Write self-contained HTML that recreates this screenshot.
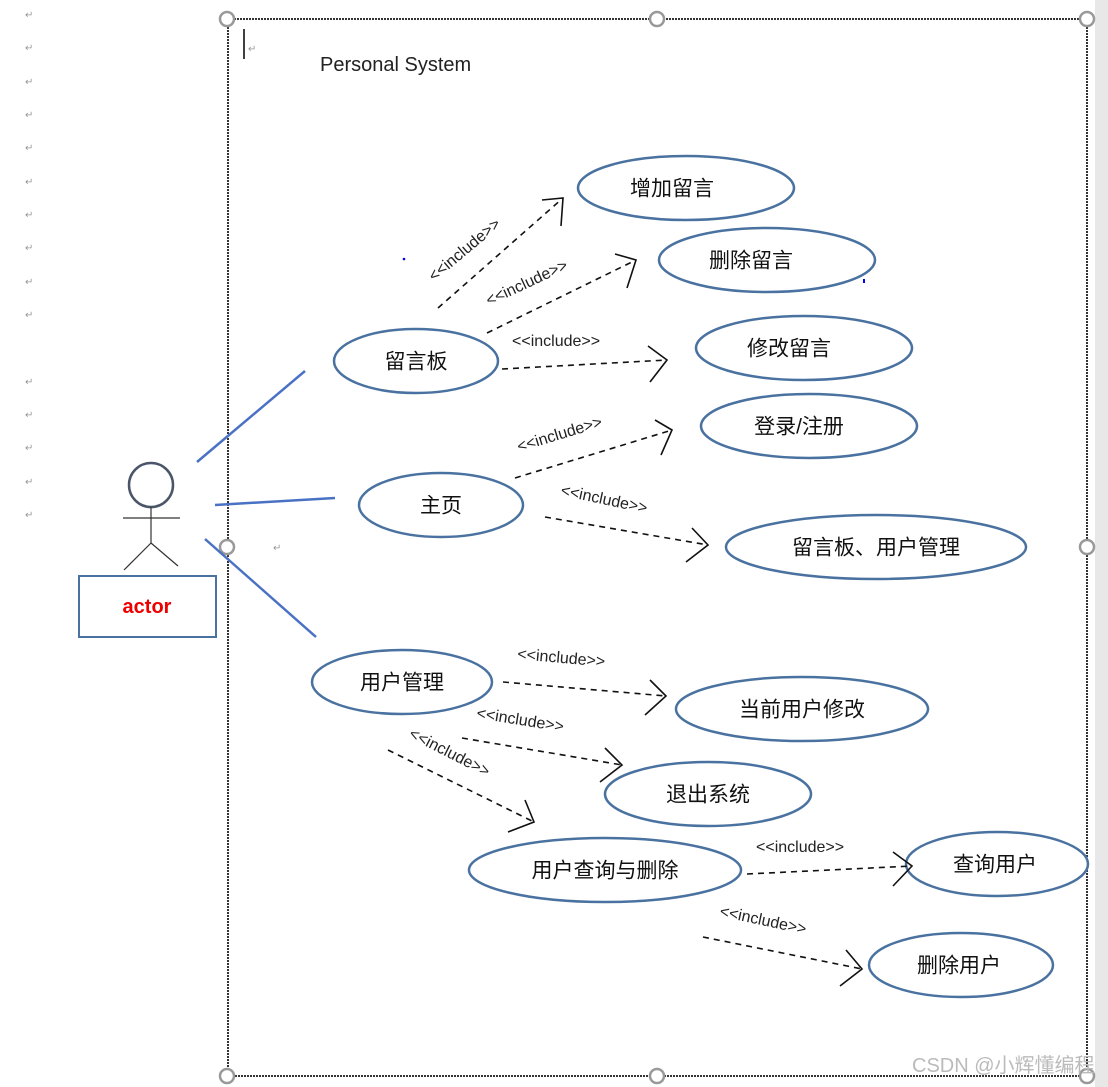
<!DOCTYPE html>
<html><head><meta charset="utf-8"><style>
body{margin:0;background:#fff;}
svg{display:block;font-family:"Liberation Sans","Noto Sans CJK SC",sans-serif;}
.e{fill:#fff;stroke:#4a72a0;stroke-width:2.5}
.t{font-size:21px;fill:#111;text-anchor:middle;dominant-baseline:middle}
.d{stroke:#111;stroke-width:1.6;stroke-dasharray:6,5;fill:none}
.h{stroke:#111;stroke-width:1.6;fill:none}
.l{font-size:16px;fill:#222}
.p{font-size:10px;fill:#999}
</style></head><body>
<svg width="1108" height="1087" viewBox="0 0 1108 1087">
<rect x="1095" y="0" width="13" height="1087" fill="#e8e8e8"/>
<rect x="228" y="19" width="859" height="1057" fill="none" stroke="#333" stroke-width="2" stroke-dasharray="2,1"/>
<g fill="#fff" stroke="#999" stroke-width="2.5">
<circle cx="227" cy="19" r="7"/><circle cx="657" cy="19" r="7"/><circle cx="1087" cy="19" r="7"/>
<circle cx="227" cy="547" r="7"/><circle cx="1087" cy="547" r="7"/>
<circle cx="227" cy="1076" r="7"/><circle cx="657" cy="1076" r="7"/><circle cx="1087" cy="1076" r="7"/>
</g>
<g class="p">
<text x="25" y="18">↵</text><text x="25" y="51">↵</text><text x="25" y="85">↵</text><text x="25" y="118">↵</text><text x="25" y="151">↵</text><text x="25" y="185">↵</text><text x="25" y="218">↵</text><text x="25" y="251">↵</text><text x="25" y="285">↵</text><text x="25" y="318">↵</text><text x="25" y="385">↵</text><text x="25" y="418">↵</text><text x="25" y="451">↵</text><text x="25" y="485">↵</text><text x="25" y="518">↵</text>
<text x="248" y="52">↵</text><text x="273" y="551">↵</text>
</g>
<line x1="244" y1="29" x2="244" y2="59" stroke="#000" stroke-width="1.5"/>
<text x="320" y="71" font-size="20" fill="#222">Personal System</text>
<!-- actor -->
<circle cx="151" cy="485" r="22" fill="#fff" stroke="#4a5568" stroke-width="2.5"/>
<g stroke="#333" stroke-width="1.2"><line x1="151" y1="507" x2="151" y2="543"/><line x1="123" y1="518" x2="180" y2="518"/><line x1="151" y1="543" x2="124" y2="570"/><line x1="151" y1="543" x2="178" y2="566"/></g>
<rect x="79" y="576" width="137" height="61" fill="#fff" stroke="#4a72a0" stroke-width="2"/>
<text x="147" y="613" font-size="20" font-weight="bold" fill="#e00" text-anchor="middle">actor</text>
<g stroke="#4a72c4" stroke-width="2.5"><line x1="197" y1="462" x2="305" y2="371"/><line x1="215" y1="505" x2="335" y2="498"/><line x1="205" y1="539" x2="316" y2="637"/></g>
<!-- ellipses -->
<ellipse class="e" cx="686" cy="188" rx="108" ry="32"/><text class="t" x="672" y="190">增加留言</text>
<ellipse class="e" cx="767" cy="260" rx="108" ry="32"/><text class="t" x="751" y="262">删除留言</text>
<ellipse class="e" cx="804" cy="348" rx="108" ry="32"/><text class="t" x="789" y="350">修改留言</text>
<ellipse class="e" cx="416" cy="361" rx="82" ry="32"/><text class="t" x="416" y="363">留言板</text>
<ellipse class="e" cx="809" cy="426" rx="108" ry="32"/><text class="t" x="799" y="428">登录/注册</text>
<ellipse class="e" cx="441" cy="505" rx="82" ry="32"/><text class="t" x="441" y="507">主页</text>
<ellipse class="e" cx="876" cy="547" rx="150" ry="32"/><text class="t" x="876" y="549">留言板、用户管理</text>
<ellipse class="e" cx="402" cy="682" rx="90" ry="32"/><text class="t" x="402" y="684">用户管理</text>
<ellipse class="e" cx="802" cy="709" rx="126" ry="32"/><text class="t" x="802" y="711">当前用户修改</text>
<ellipse class="e" cx="708" cy="794" rx="103" ry="32"/><text class="t" x="708" y="796">退出系统</text>
<ellipse class="e" cx="605" cy="870" rx="136" ry="32"/><text class="t" x="605" y="872">用户查询与删除</text>
<ellipse class="e" cx="997" cy="864" rx="91" ry="32"/><text class="t" x="995" y="866">查询用户</text>
<ellipse class="e" cx="961" cy="965" rx="92" ry="32"/><text class="t" x="959" y="967">删除用户</text>
<!-- dashed arrows -->
<line class="d" x1="438" y1="308" x2="563" y2="198"/><polyline class="h" points="542,200 563,198 561,226"/>
<line class="d" x1="487" y1="333" x2="636" y2="260"/><polyline class="h" points="615,254 636,260 627,288"/>
<line class="d" x1="502" y1="369" x2="667" y2="360"/><polyline class="h" points="648,346 667,360 650,382"/>
<line class="d" x1="515" y1="478" x2="672" y2="430"/><polyline class="h" points="655,420 672,430 661,455"/>
<line class="d" x1="545" y1="517" x2="708" y2="545"/><polyline class="h" points="692,528 708,545 686,562"/>
<line class="d" x1="503" y1="682" x2="666" y2="696"/><polyline class="h" points="650,680 666,696 645,715"/>
<line class="d" x1="462" y1="738" x2="622" y2="765"/><polyline class="h" points="605,748 622,765 600,782"/>
<line class="d" x1="388" y1="750" x2="534" y2="822"/><polyline class="h" points="525,800 534,822 508,832"/>
<line class="d" x1="747" y1="874" x2="912" y2="866"/><polyline class="h" points="893,852 912,866 893,886"/>
<line class="d" x1="703" y1="937" x2="862" y2="969"/><polyline class="h" points="846,950 862,969 840,986"/>
<!-- labels -->
<text class="l" transform="translate(434,282) rotate(-40)">&lt;&lt;include&gt;&gt;</text>
<text class="l" transform="translate(489,306) rotate(-25)">&lt;&lt;include&gt;&gt;</text>
<text class="l" x="512" y="346">&lt;&lt;include&gt;&gt;</text>
<text class="l" transform="translate(519,452) rotate(-17)">&lt;&lt;include&gt;&gt;</text>
<text class="l" transform="translate(560,495) rotate(12)">&lt;&lt;include&gt;&gt;</text>
<text class="l" transform="translate(517,659) rotate(5)">&lt;&lt;include&gt;&gt;</text>
<text class="l" transform="translate(476,718) rotate(9)">&lt;&lt;include&gt;&gt;</text>
<text class="l" transform="translate(408,737) rotate(27)">&lt;&lt;include&gt;&gt;</text>
<text class="l" x="756" y="852">&lt;&lt;include&gt;&gt;</text>
<text class="l" transform="translate(719,916) rotate(12)">&lt;&lt;include&gt;&gt;</text>
<circle cx="404" cy="259" r="1.3" fill="#00f"/><rect x="863" y="279" width="2" height="4" fill="#00f"/>
<text x="912" y="1072" font-size="20" fill="#bbb">CSDN @小辉懂编程</text>
</svg>
</body></html>
